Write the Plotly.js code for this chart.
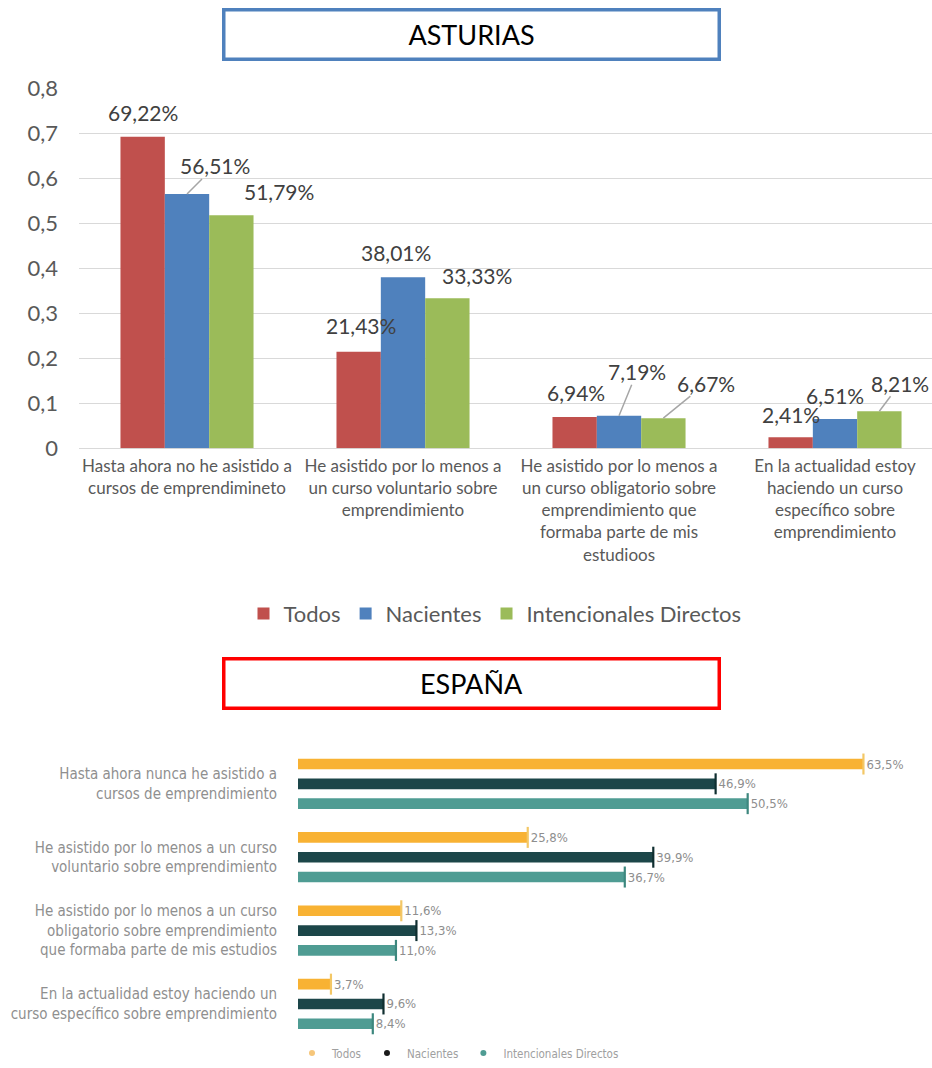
<!DOCTYPE html>
<html><head><meta charset="utf-8">
<script src="https://cdn.plot.ly/plotly-3.0.1.min.js"></script>
<style>html,body{margin:0;padding:0;background:#fff}#chart{width:932px;height:1068px}</style>
</head><body><div id="chart"></div>
<script>
// ---------- DATA ----------
const asturiasCategories = [
  'Hasta ahora no he asistido a<br>cursos de emprendimineto',
  'He asistido por lo menos a<br>un curso voluntario sobre<br>emprendimiento',
  'He asistido por lo menos a<br>un curso obligatorio sobre<br>emprendimiento que<br>formaba parte de mis<br>estudioos',
  'En la actualidad estoy<br>haciendo un curso<br>específico sobre<br>emprendimiento'
];
const asturiasTodos = [0.6922, 0.2143, 0.0694, 0.0241];
const asturiasNacientes = [0.5651, 0.3801, 0.0719, 0.0651];
const asturiasIntencionales = [0.5179, 0.3333, 0.0667, 0.0821];
const yTickVals = [0, 0.1, 0.2, 0.3, 0.4, 0.5, 0.6, 0.7, 0.8];
const yTickText = ['0', '0,1', '0,2', '0,3', '0,4', '0,5', '0,6', '0,7', '0,8'];

const espanaCategories = [
  'Hasta ahora nunca he asistido a<br>cursos de emprendimiento',
  'He asistido por lo menos a un curso<br>voluntario sobre emprendimiento',
  'He asistido por lo menos a un curso<br>obligatorio sobre emprendimiento<br>que formaba parte de mis estudios',
  'En la actualidad estoy haciendo un<br>curso específico sobre emprendimiento'
];
const espanaTodos = [63.5, 25.8, 11.6, 3.7];
const espanaNacientes = [46.9, 39.9, 13.3, 9.6];
const espanaIntencionales = [50.5, 36.7, 11.0, 8.4];

const seriesNames = ['Todos', 'Nacientes', 'Intencionales Directos'];

// ---------- STYLE ----------
const W = 932, H = 1068;
const px = p => p / W;
const py = p => 1 - p / H;
const topColors = ['#C0504D', '#4F81BD', '#9BBB59'];
const botColors = ['#F8B233', '#1C4649', '#4F9C93'];
const capColors = ['#F3C766', '#0F2E30', '#3D877E'];
const legend2Colors = ['#F6C67A', '#1a1a1a', '#4F9C93'];
const FONT = 'Lato, "Open Sans", sans-serif';
const CFONT = '"DejaVu Sans Condensed", "Liberation Sans Narrow", "DejaVu Sans", sans-serif';
const barPitch = 44.3;
// label placement tweaks per series/category: [dx, dy, leaderLine]
const topLabelOffsets = [
  [[0, -24, 0], [2, -26, 0], [1, -24, 0], [0, -23, 0]],
  [[28, -28, 1], [-7, -25, 0], [18, -44, 1], [0, -23, 0]],
  [[48, -24, 0], [30, -23, 0], [43, -35, 1], [21, -28, 1]]
];
const botOffsets = [-0.27, 0, 0.27];
const botBarWidth = 0.145;

const asturiasSeries = [asturiasTodos, asturiasNacientes, asturiasIntencionales];
const espanaSeries = [espanaTodos, espanaNacientes, espanaIntencionales];
const catIdx = [0, 1, 2, 3];

const traces = [];
asturiasSeries.forEach((vals, i) => {
  traces.push({
    type: 'bar', name: seriesNames[i], x: asturiasCategories, y: vals,
    xaxis: 'x', yaxis: 'y', legend: 'legend',
    marker: {color: topColors[i], line: {width: 0}},
    hoverinfo: 'skip'
  });
});
espanaSeries.forEach((vals, i) => {
  traces.push({
    type: 'bar', orientation: 'h', name: seriesNames[i], showlegend: false,
    x: vals, y: catIdx.map(k => k + botOffsets[i]),
    width: botBarWidth, offset: -botBarWidth / 2,
    xaxis: 'x2', yaxis: 'y2',
    marker: {color: botColors[i], line: {width: 0}},
    text: vals.map(v => v.toFixed(1).replace('.', ',') + '%'),
    textposition: 'outside', constraintext: 'none', cliponaxis: false,
    textfont: {family: CFONT, size: 13, color: '#8E8E8E'},
    hoverinfo: 'skip'
  });
  traces.push({
    type: 'scatter', mode: 'markers', showlegend: false,
    x: vals, y: catIdx.map(k => k + botOffsets[i]),
    xaxis: 'x2', yaxis: 'y2', cliponaxis: false,
    marker: {symbol: 'line-ns', size: 15, line: {width: 2.2, color: capColors[i]}},
    hoverinfo: 'skip'
  });
});
seriesNames.forEach((n, i) => {
  traces.push({
    type: 'scatter', mode: 'markers', name: n, x: [null], y: [null],
    xaxis: 'x2', yaxis: 'y2', legend: 'legend2',
    marker: {size: 6, color: legend2Colors[i]}
  });
});

const annotations = [];
asturiasSeries.forEach((vals, i) => {
  vals.forEach((v, k) => {
    const [dx, dy, leader] = topLabelOffsets[i][k];
    const txt = (v * 100).toFixed(2).replace('.', ',') + '%';
    const base = {
      xref: 'x', yref: 'y', x: k, y: v, text: txt,
      font: {family: FONT, size: 21, color: '#404040'}
    };
    if (leader) {
      annotations.push(Object.assign(base, {
        showarrow: true, arrowhead: 0, arrowwidth: 1.5, arrowcolor: '#A6A6A6',
        ax: dx, ay: dy, standoff: 0, borderpad: 0,
        xshift: (i - 1) * barPitch
      }));
    } else {
      annotations.push(Object.assign(base, {
        showarrow: false, xanchor: 'center', yanchor: 'middle',
        xshift: (i - 1) * barPitch + dx, yshift: -dy
      }));
    }
  });
});
annotations.push({
  xref: 'paper', yref: 'paper', x: px(471), y: py(35), xanchor: 'center', yanchor: 'middle',
  text: 'ASTURIAS', showarrow: false, width: 488, height: 42,
  bordercolor: '#4F81BD', borderwidth: 3.5, borderpad: 2, bgcolor: '#fff',
  font: {family: FONT, size: 27, color: '#000'}
});
annotations.push({
  xref: 'paper', yref: 'paper', x: px(471), y: py(689), xanchor: 'center', yanchor: 'middle',
  text: 'ESPAÑA', showarrow: false, width: 488, height: 42,
  bordercolor: '#FF0000', borderwidth: 3.5, borderpad: 2, bgcolor: '#fff',
  font: {family: FONT, size: 27, color: '#000'}
});

const layout = {
  width: W, height: H, margin: {l: 0, r: 0, t: 0, b: 0},
  paper_bgcolor: '#fff', plot_bgcolor: '#fff',
  barmode: 'group', bargap: 0.384, bargroupgap: 0,
  font: {family: FONT, color: '#595959'},
  xaxis: {
    domain: [px(79), 1], type: 'category', range: [-0.5, 3.449],
    showgrid: false, zeroline: false, showline: false, ticks: '',
    tickfont: {family: FONT, size: 17, color: '#595959'}, ticklabelstandoff: 6,
    fixedrange: true
  },
  yaxis: {
    domain: [py(452), py(89)], range: [0, 0.8], tickvals: yTickVals, ticktext: yTickText,
    showgrid: true, gridcolor: '#D9D9D9', gridwidth: 1.3, zeroline: true, zerolinecolor: '#D9D9D9', zerolinewidth: 1.3,
    showline: false, ticks: '', tickfont: {family: FONT, size: 22, color: '#595959'}, ticklabelstandoff: 20,
    fixedrange: true
  },
  xaxis2: {
    domain: [px(298), 1], range: [0, 71.2], visible: false, anchor: 'y2', fixedrange: true
  },
  yaxis2: {
    domain: [py(1049.5), py(753.5)], range: [3.5, -0.5], autorange: false, anchor: 'x2',
    tickvals: catIdx, ticktext: espanaCategories,
    showgrid: false, zeroline: false, showline: false, ticks: '',
    tickfont: {family: CFONT, size: 15, color: '#8F8F8F'}, ticklabelstandoff: 20,
    fixedrange: true
  },
  legend: {
    orientation: 'h', x: px(495), y: py(619), xanchor: 'center', yanchor: 'middle',
    font: {family: FONT, size: 22, color: '#595959'}, itemwidth: 30, traceorder: 'normal',
    bgcolor: 'rgba(0,0,0,0)'
  },
  legend2: {
    orientation: 'h', x: px(458), y: py(1062), xanchor: 'center', yanchor: 'middle',
    font: {family: CFONT, size: 11.5, color: '#A0A0A0'}, itemwidth: 14, traceorder: 'normal',
    bgcolor: 'rgba(0,0,0,0)'
  },
  annotations: annotations,
  showlegend: true
};

Plotly.newPlot('chart', traces, layout, {displayModeBar: false, staticPlot: true});
</script>
</body></html>
